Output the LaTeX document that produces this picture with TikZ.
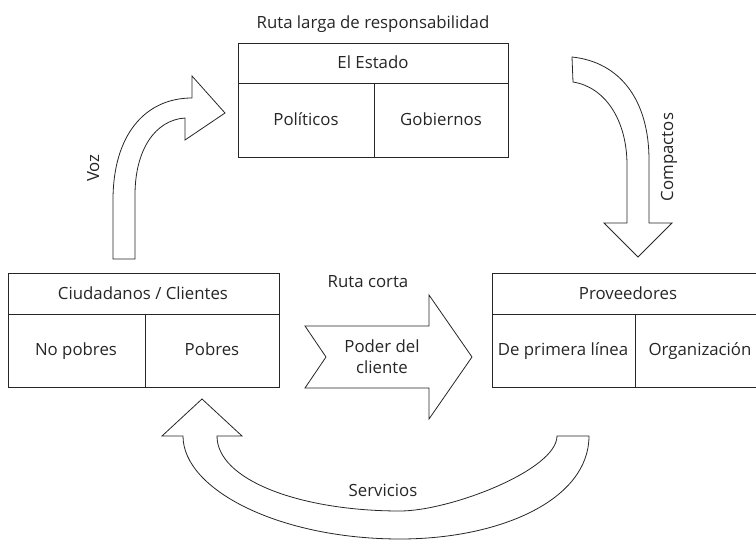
\documentclass[tikz,border=0pt]{standalone}
\usepackage{fontspec}
\setmainfont{Open Sans}
\begin{document}
\begin{tikzpicture}[x=1pt,y=-1pt,
  line width=0.8pt,
  txt/.style={font=\fontsize{16.8}{21}\selectfont, inner sep=0pt, text=black!85},
  lbl/.style={txt, text height=14pt, text depth=2pt},
  box/.style={draw=black!85},
  blockarrow/.style={draw=black!85, line join=miter}]
\useasboundingbox (0,0) rectangle (756,540);
\clip (0,0) rectangle (756,540);

% El Estado
\draw[box] (238,43) rectangle (508,157);
\draw[box] (238,83) -- (508,83);
\draw[box] (374,83) -- (374,157);
\node[lbl] (larga) at (373,23) {Ruta larga de responsabilidad};
\node[lbl] (estado) at (373,63) {El Estado};
\node[lbl] (politicos) at (306,120) {Políticos};
\node[lbl] (gobiernos) at (441,120) {Gobiernos};

% Ciudadanos
\draw[box] (8,273) rectangle (279,387);
\draw[box] (8,314) -- (279,314);
\draw[box] (145,314) -- (145,387);
\node[lbl] (ciud) at (143,294) {Ciudadanos / Clientes};
\node[lbl] (nopobres) at (76,350) {No pobres};
\node[lbl] (pobres) at (212,350) {Pobres};

% Proveedores
\draw[box] (492,273) rectangle (763,387);
\draw[box] (492,314) -- (763,314);
\draw[box] (635,314) -- (635,387);
\node[lbl] (prov) at (628,294) {Proveedores};
\node[lbl] (primera) at (563,350) {De primera línea};
\node[lbl] (org) at (700,350) {Organización};

% Ruta corta arrow
\draw[blockarrow] (305,326) -- (429,326) -- (429,295) -- (472,357) -- (429,419) -- (429,388) -- (305,388) -- (326,357) -- cycle;
\node[lbl] (corta) at (368,282) {Ruta corta};
\node[txt, align=center] (poder) at (382,357) {Poder del\\cliente};

% Voz arrow
\draw[blockarrow] (113,259) -- (113,200) .. controls (113,135) and (145,98) .. (192,98)
  -- (192,76) -- (225,113) -- (185,140) -- (185,118)
  .. controls (155,120) and (135,150) .. (135,195) -- (135,259) -- cycle;
\node[lbl, rotate=90] (voz) at (93,168) {Voz};

% Compactos arrow
\draw[blockarrow] (572,57) .. controls (620,62) and (649,100) .. (649,160) -- (649,223)
  -- (672,223) -- (638,257) -- (604,223) -- (627,223) -- (627,165)
  .. controls (627,120) and (605,87) .. (573,82) -- cycle;
\node[lbl, rotate=90] (compactos) at (667,157) {Compactos};

% Servicios arrow
\draw[blockarrow] (183,436) -- (162,436) -- (202,399) -- (242,436) -- (217,436)
  .. controls (217,480) and (300,511) .. (400,511)
  .. controls (450,511) and (557,470) .. (557,436)
  -- (589,436)
  .. controls (589,500) and (500,539) .. (400,539)
  .. controls (280,539) and (183,490) .. (183,436) -- cycle;
\node[lbl] (servicios) at (383,490) {Servicios};
\end{tikzpicture}
\end{document}
